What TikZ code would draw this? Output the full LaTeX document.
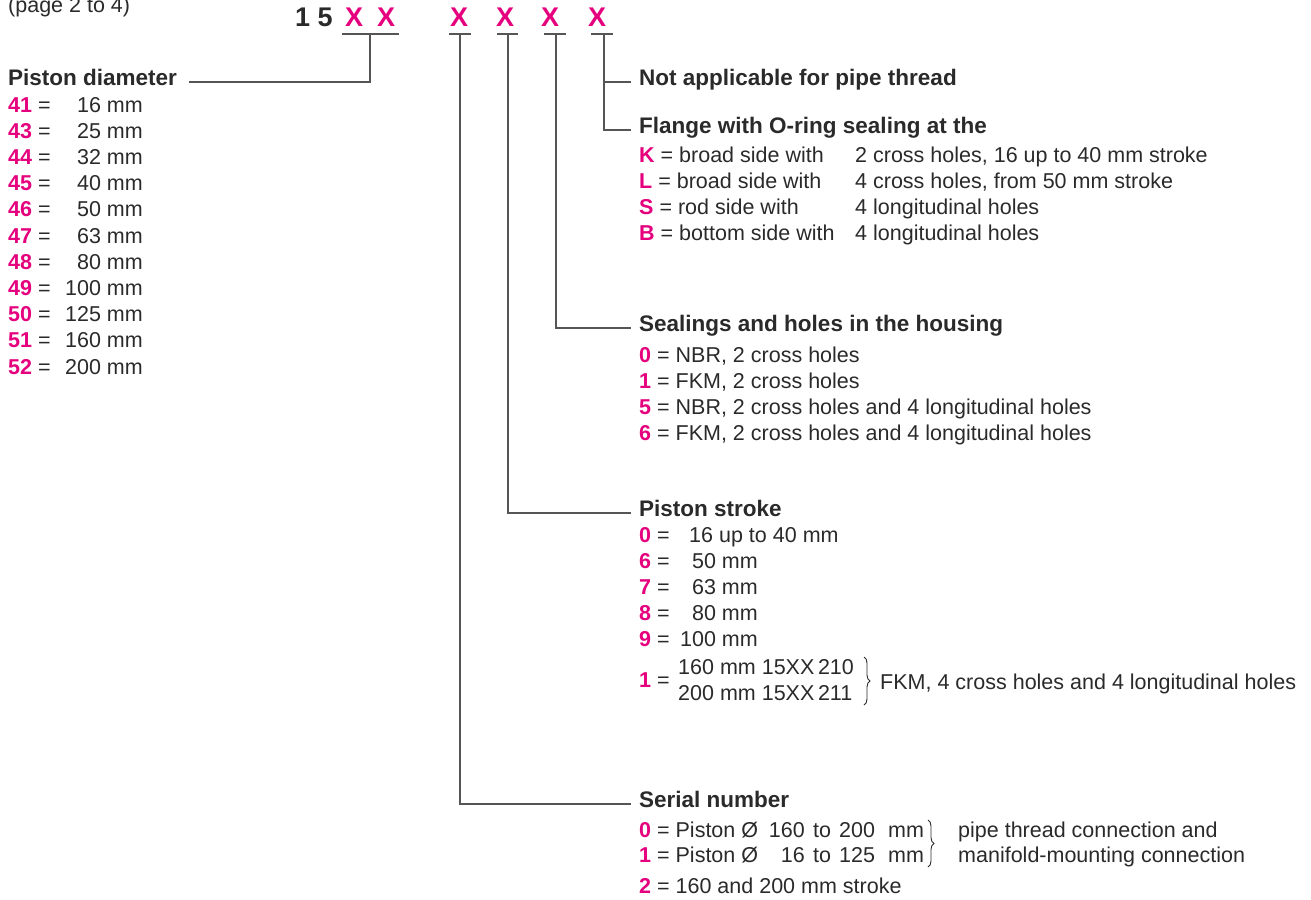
\documentclass[tikz,border=0pt]{standalone}
\usepackage{fontspec}
\setmainfont{Liberation Sans}
\usetikzlibrary{decorations.pathreplacing}

\definecolor{keypink}{HTML}{E5007D}
\definecolor{ink}{HTML}{2A2A2A}
\definecolor{rulegray}{HTML}{555555}
\newcommand{\kk}[1]{\textcolor{keypink}{\bfseries #1}}

\tikzset{
	txt/.style={anchor=base west, inner sep=0pt, text=ink, font=\fontsize{21.5}{26}\selectfont},
	txtr/.style={txt, anchor=base east},
	head/.style={anchor=base west, inner sep=0pt, text=ink, font=\fontsize{22.5}{26}\selectfont\bfseries},
	code/.style={anchor=base, inner sep=0pt, font=\fontsize{27}{30}\selectfont\bfseries},
	ln/.style={draw=rulegray, line width=1.1pt},
	curly/.style={draw=ink, line width=0.9pt, decorate, decoration={brace, amplitude=6pt}},
}

\begin{document}
\begin{tikzpicture}[x=1pt, y=-1pt]
		\useasboundingbox (0,0) rectangle (1311,899);

		\node[txt] (page) at (8,13) {(page 2 to 4)};

		% order code
		\node[code, anchor=base west, text=ink] (one) at (295,27) {1 5};
		\node[code, text=keypink] (xa) at (354,27) {X};
		\node[code, text=keypink] (xb) at (386,27) {X};
		\node[code, text=keypink] (xc) at (459,27) {X};
		\node[code, text=keypink] (xd) at (505,27) {X};
		\node[code, text=keypink] (xe) at (550,27) {X};
		\node[code, text=keypink] (xf) at (597,27) {X};

		\draw[ln] (342,34) -- (399,34);
		\draw[ln] (449,34) -- (471,34);
		\draw[ln] (497,34) -- (518,34);
		\draw[ln] (544,34) -- (566,34);
		\draw[ln] (591,34) -- (613,34);

		\coordinate (ta) at (370,34);
		\coordinate (tc) at (460,34);
		\coordinate (td) at (508,34);
		\coordinate (te) at (556,34);
		\coordinate (tf) at (604,34);

		% piston diameter
		\node[head] (hdia) at (8,85) {Piston diameter};
		\foreach \n/\v [count=\i from 0] in {41/16,43/25,44/32,45/40,46/50,47/63,48/80,49/100,50/125,51/160,52/200} {
			\node[txt] (dn\i) at (8,{112+26.2*\i}) {\kk{\n}};
			\node[txt] (de\i) at (38,{112+26.2*\i}) {=};
			\node[txtr] (dv\i) at (143,{112+26.2*\i}) {\v\ mm};
		}

		% flange
		\node[head] (hnot) at (639,85) {Not applicable for pipe thread};
		\node[head] (hfla) at (639,133) {Flange with O-ring sealing at the};
		\foreach \k/\a/\b [count=\i from 0] in {
				K/broad side with/{2 cross holes, 16 up to 40 mm stroke},
				L/broad side with/{4 cross holes, from 50 mm stroke},
				S/rod side with/4 longitudinal holes,
				B/bottom side with/4 longitudinal holes} {
			\node[txt] (fa\i) at (639,{162+26.2*\i}) {\kk{\k} = \a};
			\node[txt] (fb\i) at (855,{162+26.2*\i}) {\b};
		}

		% housing
		\node[head] (hsea) at (639,331) {Sealings and holes in the housing};
		\foreach \k/\a [count=\i from 0] in {
				0/{NBR, 2 cross holes},
				1/{FKM, 2 cross holes},
				5/{NBR, 2 cross holes and 4 longitudinal holes},
				6/{FKM, 2 cross holes and 4 longitudinal holes}} {
			\node[txt] (sa\i) at (639,{362+26.2*\i}) {\kk{\k} = \a};
		}

		% stroke
		\node[head] (hstr) at (639,516) {Piston stroke};
		\node[txt] (tk0) at (639,542) {\kk{0}};
		\node[txt] (te0) at (657,542) {=};
		\node[txt] (tv0) at (689,542) {16 up to 40 mm};
		\foreach \k/\v [count=\i from 1] in {6/50,7/63,8/80,9/100} {
			\node[txt] (tk\i) at (639,{542+26.2*\i}) {\kk{\k}};
			\node[txt] (te\i) at (657,{542+26.2*\i}) {=};
			\node[txtr] (tv\i) at (758,{542+26.2*\i}) {\v\ mm};
		}
		\node[txt] (tk5) at (639,687) {\kk{1}};
		\node[txt] (te5) at (657,687) {=};
		\node[txt] (tl1) at (678,674) {160 mm 15XX\,210};
		\node[txt] (tl2) at (678,700) {200 mm 15XX\,211};
		\draw[curly] (864,657) -- (864,705);
		\node[txt] (tfkm) at (880,689) {FKM, 4 cross holes and 4 longitudinal holes};

		% serial number
		\node[head] (hser) at (639,807) {Serial number};
		\node[txt] (r0) at (639,837) {\kk{0} = Piston Ø};
		\node[txtr] (r0a) at (805,837) {160};
		\node[txt] (r0b) at (813,837) {to};
		\node[txt] (r0c) at (839,837) {200};
		\node[txt] (r0d) at (888,837) {mm};
		\node[txt] (r1) at (639,862) {\kk{1} = Piston Ø};
		\node[txtr] (r1a) at (805,862) {16};
		\node[txt] (r1b) at (813,862) {to};
		\node[txt] (r1c) at (839,862) {125};
		\node[txt] (r1d) at (888,862) {mm};
		\draw[curly] (928,820) -- (928,867);
		\node[txt] (rp) at (958,837) {pipe thread connection and};
		\node[txt] (rm) at (958,862) {manifold-mounting connection};
		\node[txt] (r2) at (639,893) {\kk{2} = 160 and 200 mm stroke};

		% leader lines
		\draw[ln] (ta) |- ([xshift=12pt,yshift=3pt]hdia.base east);
		\draw[ln] (tf) |- ([xshift=-8pt,yshift=3pt]hfla.base west);
		\draw[ln] ([xshift=-8pt,yshift=3pt]hnot.base west) -- ++(-27,0);
		\draw[ln] (te) |- ([xshift=-8pt,yshift=3pt]hsea.base west);
		\draw[ln] (td) |- ([xshift=-8pt,yshift=3pt]hstr.base west);
		\draw[ln] (tc) |- ([xshift=-8pt,yshift=3pt]hser.base west);
	\end{tikzpicture}
\end{document}
